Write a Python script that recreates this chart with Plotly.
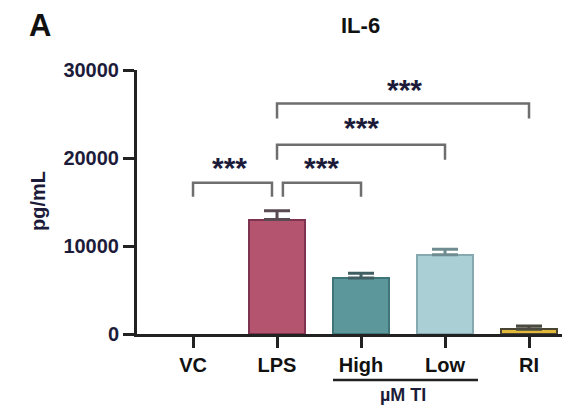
import plotly.graph_objects as go

categories = ["VC", "LPS", "High", "Low", "RI"]
means = [0, 13000, 6350, 9000, 530]
errors = [None, 1000, 550, 630, 380]
fill_colors = ["#ffffff", "#b5546f", "#5c979c", "#aacfd5", "#e3b93c"]
line_colors = ["#ffffff", "#7e3450", "#3f7479", "#86aab0", "#4a4530"]
err_colors = ["#ffffff", "#5a4a52", "#3f5f62", "#6f8c90", "#4a4a40"]
y_ticks = [0, 10000, 20000, 30000]

# significance brackets: (x_left, x_right, y_top, y_leg_bottom, star_x, star_y)
brackets = [
    (0.0, 0.94, 17200, 15600, 0.44, 19300),
    (1.07, 2.0, 17200, 15600, 1.53, 19300),
    (1.0, 3.0, 21500, 19800, 2.0, 23900),
    (1.0, 4.0, 26200, 24500, 2.52, 28200),
]
sig_label = "***"

xs = list(range(len(categories)))
FONT = "Liberation Sans, Arial, sans-serif"
OFF = 8  # page body margin offset

fig = go.Figure()
for i in xs:
    kw = {}
    if errors[i] is not None:
        kw["error_y"] = dict(type="data", symmetric=False, array=[errors[i]],
                             arrayminus=[0], color=err_colors[i],
                             thickness=3, width=13)
    fig.add_trace(go.Bar(
        x=[xs[i]], y=[means[i]], width=0.67,
        marker=dict(color=fill_colors[i],
                    line=dict(color=line_colors[i], width=2)),
        showlegend=False, **kw,
    ))

for (x0, x1, yt, yb, sx, sy) in brackets:
    fig.add_shape(type="path",
                  path=f"M {x0},{yb} L {x0},{yt} L {x1},{yt} L {x1},{yb}",
                  xref="x", yref="y",
                  line=dict(color="#6e6e6e", width=2.5))
    fig.add_annotation(x=sx, y=sy - 400, xref="x", yref="y",
                       text=f"<b>{sig_label}</b>",
                       showarrow=False, xanchor="center", yanchor="middle",
                       font=dict(family=FONT, size=30, color="#1c1c3a"))

# group underline and label
fig.add_shape(type="line", xref="paper", yref="paper",
              x0=0.4527, x1=0.7875, y0=-0.174, y1=-0.174,
              line=dict(color="#222222", width=2.5))
fig.add_annotation(x=0.614, y=-0.231, xref="paper", yref="paper",
                   text="<b>µM TI</b>", showarrow=False,
                   xanchor="center", yanchor="middle",
                   font=dict(family=FONT, size=18, color="#1c1c3a"))

# titles
fig.add_annotation(x=0.517, y=1.17, xref="paper", yref="paper",
                   text="<b>IL-6</b>", showarrow=False,
                   xanchor="center", yanchor="middle",
                   font=dict(family=FONT, size=22, color="#111111"))
fig.add_annotation(x=-0.224, y=1.167, xref="paper", yref="paper",
                   text="<b>A</b>", showarrow=False,
                   xanchor="center", yanchor="middle",
                   font=dict(family=FONT, size=31, color="#111111"))
fig.add_annotation(x=-0.2286, y=0.504, xref="paper", yref="paper",
                   text="<b>pg/mL</b>", showarrow=False, textangle=-90,
                   xanchor="center", yanchor="middle",
                   font=dict(family=FONT, size=20, color="#1c1c3a"))

fig.update_layout(
    width=570, height=408,
    margin=dict(l=137 - OFF, r=OFF, t=70 - OFF, b=74 + OFF),
    plot_bgcolor="white", paper_bgcolor="white",
    font=dict(family=FONT, color="#1c1c3a"),
    bargap=0, barmode="overlay",
)
fig.update_xaxes(
    range=[-0.667, 4.488], tickmode="array", tickvals=xs,
    ticktext=[f"<b>{c}</b>" for c in categories],
    showline=True, linecolor="#222222", linewidth=3,
    ticks="outside", ticklen=11, tickwidth=3, tickcolor="#222222",
    showgrid=False, zeroline=False,
    tickfont=dict(family=FONT, size=20, color="#111111"),
)
fig.update_yaxes(
    range=[0, 30000], tickmode="array", tickvals=y_ticks,
    ticktext=[f"<b>{v}</b>" for v in y_ticks],
    showline=True, linecolor="#222222", linewidth=3,
    ticks="outside", ticklen=11, tickwidth=3, tickcolor="#222222",
    showgrid=False, zeroline=False,
    tickfont=dict(family=FONT, size=20, color="#1c1c3a"),
)

fig.write_html("out.html")
